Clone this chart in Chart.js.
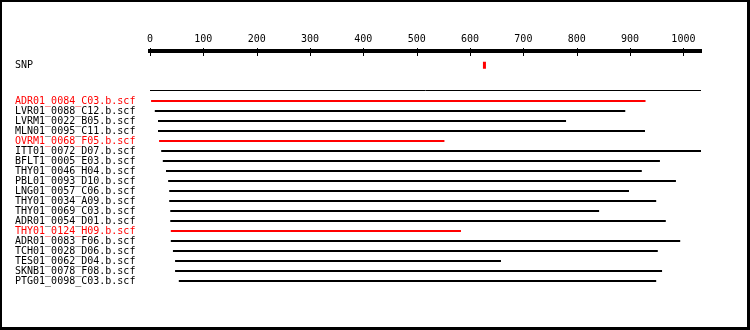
<!DOCTYPE html>
<html>
<head>
<meta charset="utf-8">
<script src="https://cdn.jsdelivr.net/npm/chart.js@4/dist/chart.umd.min.js"></script>
<style>
  body { margin: 0; background: #fff; }
  #wrap { position: relative; width: 750px; height: 330px; }
  #wrap canvas { position: absolute; left: 0; top: 0; }
  #frame {
    position: absolute; left: 0; top: 0; width: 750px; height: 330px;
    box-sizing: border-box; pointer-events: none;
    border-top: 2px solid #000; border-left: 2px solid #000;
    border-right: 3px solid #000; border-bottom: 3px solid #000;
  }
</style>
</head>
<body>
<div id="wrap">
  <canvas id="chart" width="750" height="330"></canvas>
  <div id="frame"></div>
</div>
<script>
// Reads, in order from top to bottom
const readNames = [
  'ADR01_0084_C03.b.scf', 'LVR01_0088_C12.b.scf', 'LVRM1_0022_B05.b.scf',
  'MLN01_0095_C11.b.scf', 'OVRM1_0068_F05.b.scf', 'ITT01_0072_D07.b.scf',
  'BFLT1_0005_E03.b.scf', 'THY01_0046_H04.b.scf', 'PBL01_0093_D10.b.scf',
  'LNG01_0057_C06.b.scf', 'THY01_0034_A09.b.scf', 'THY01_0069_C03.b.scf',
  'ADR01_0054_D01.b.scf', 'THY01_0124_H09.b.scf', 'ADR01_0083_F06.b.scf',
  'TCH01_0028_D06.b.scf', 'TES01_0062_D04.b.scf', 'SKNB1_0078_F08.b.scf',
  'PTG01_0098_C03.b.scf'
];
const readStart = [2, 9, 15, 15, 17, 21, 24, 30, 34, 36, 36, 38, 38, 39, 39, 43, 47, 47, 54];
const readEnd = [929, 891, 780, 928, 552, 1033, 956, 922, 986, 898, 949, 842, 967, 583, 994, 952, 658, 960, 949];
// reads containing the SNP are drawn in red
const readHasSnp = [true, false, false, false, true, false, false, false, false,
  false, false, false, false, true, false, false, false, false, false];

const snpPosition = 627;
const contigLength = 1033;
const xTickValues = [0, 100, 200, 300, 400, 500, 600, 700, 800, 900, 1000];

const SNP_ROW = -3.57;
const CONTIG_ROW = -1.05;

const RED = '#ff0000';
const BLACK = '#000000';

Chart.defaults.font.family = '"DejaVu Sans Mono", "Liberation Mono", monospace';
Chart.defaults.font.size = 10;
Chart.defaults.color = BLACK;

const datasets = [];

// contig line
datasets.push({
  data: [{ x: 0, y: CONTIG_ROW }, { x: contigLength, y: CONTIG_ROW }],
  borderColor: BLACK,
  borderWidth: 1
});

// SNP marker
datasets.push({
  data: [{ x: snpPosition, y: SNP_ROW - 0.35 }, { x: snpPosition, y: SNP_ROW + 0.35 }],
  borderColor: RED,
  borderWidth: 3
});

readNames.forEach((name, i) => {
  datasets.push({
    label: name,
    data: [{ x: readStart[i], y: i }, { x: readEnd[i], y: i }],
    borderColor: readHasSnp[i] ? RED : BLACK,
    borderWidth: 2
  });
});

// short tick stubs across the thick ruler line
const rulerTicks = {
  id: 'rulerTicks',
  afterDraw(chart) {
    const scale = chart.scales.x;
    const ctx = chart.ctx;
    ctx.save();
    ctx.strokeStyle = BLACK;
    ctx.lineWidth = 1;
    scale.ticks.forEach(t => {
      const px = Math.round(scale.getPixelForValue(t.value)) + 0.5;
      ctx.beginPath();
      ctx.moveTo(px, scale.bottom - 3);
      ctx.lineTo(px, scale.bottom + 5);
      ctx.stroke();
    });
    ctx.restore();
  }
};

new Chart(document.getElementById('chart'), {
  type: 'line',
  data: { datasets },
  plugins: [rulerTicks],
  options: {
    responsive: false,
    animation: false,
    events: [],
    layout: { padding: { left: 15, right: 49, top: 0, bottom: 40 } },
    elements: {
      point: { radius: 0 },
      line: { borderCapStyle: 'butt', tension: 0 }
    },
    plugins: {
      legend: { display: false },
      tooltip: { enabled: false }
    },
    scales: {
      x: {
        type: 'linear',
        position: 'top',
        min: 0,
        max: contigLength,
        afterFit: s => { s.height = 51; },
        afterBuildTicks: s => { s.ticks = xTickValues.map(v => ({ value: v })); },
        grid: { display: false, drawTicks: false },
        border: { display: true, width: 4, color: BLACK },
        ticks: {
          color: BLACK, padding: 6, maxRotation: 0, autoSkip: false,
          callback: v => String(v)
        }
      },
      y: {
        type: 'linear',
        reverse: true,
        min: -5,
        max: 18.9,
        afterFit: s => { s.width = 135; },
        afterBuildTicks: s => {
          s.ticks = [{ value: SNP_ROW }].concat(readNames.map((n, i) => ({ value: i })));
        },
        grid: { display: false, drawTicks: false },
        border: { display: false },
        ticks: {
          autoSkip: false,
          crossAlign: 'far',
          padding: 0,
          callback: v => (v === SNP_ROW ? 'SNP' : readNames[v]),
          color: ctx => {
            const v = ctx.tick.value;
            return v >= 0 && readHasSnp[v] ? RED : BLACK;
          }
        }
      }
    }
  }
});
</script>
</body>
</html>
